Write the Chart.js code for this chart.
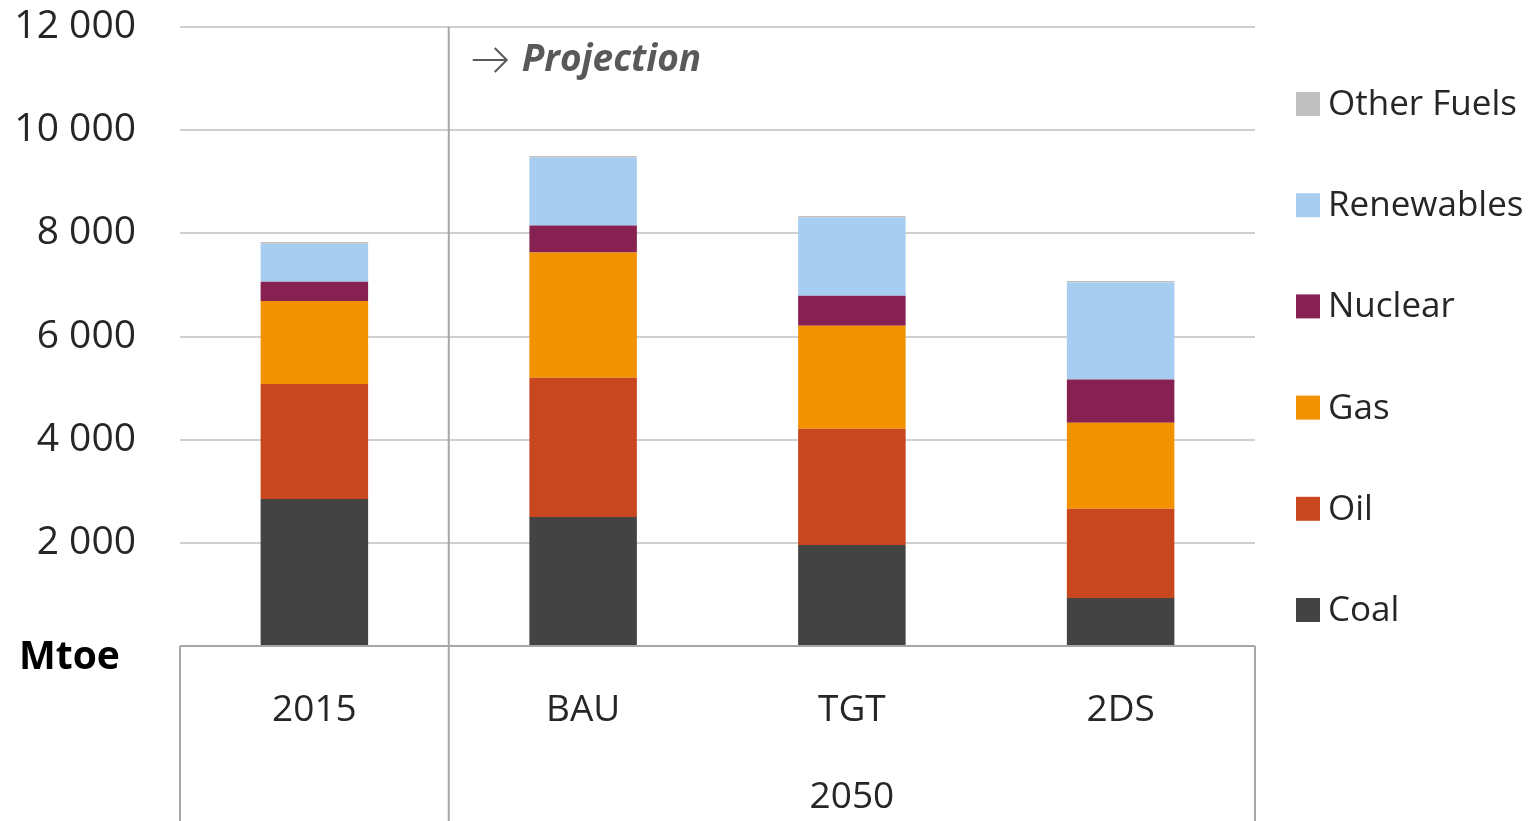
<!DOCTYPE html>
<html>
<head>
<meta charset="utf-8">
<title>Mtoe</title>
<script src="https://cdn.jsdelivr.net/npm/chart.js@4"></script>
<style>
    html, body { margin: 0; padding: 0; background: #fff; }
    #graphique { display: block; }
</style>
</head>
<body>
<canvas id="graphique" width="1530" height="821"></canvas>
<script>
const categories = ["2015", "BAU", "TGT", "2DS"];
const groupe2050 = "2050";
const charbon = [2850, 2500, 1960, 930];
const petrole = [2230, 2700, 2250, 1730];
const gaz = [1610, 2430, 2000, 1670];
const nucleaire = [370, 520, 580, 835];
const renouvelables = [740, 1320, 1515, 1880];
const autres = [30, 30, 30, 30];
const graduations = [0, 2000, 4000, 6000, 8000, 10000, 12000];

const police = "'Open Sans', 'Noto Sans', sans-serif";
const gris = "#cfcfcf";

function formatMilliers(v) {
    return String(v).replace(/\B(?=(\d{3})+(?!\d))/g, " ");
}

// cadre de l'axe x, séparateur "Projection", légende
const decor = {
    id: "decor",
    afterDraw(chart) {
        const c = chart.ctx;
        const area = chart.chartArea;
        const x = chart.scales.x;
        const bas = chart.height;
        const sep = (x.getPixelForValue(0) + x.getPixelForValue(1)) / 2;

        c.save();
        c.strokeStyle = "#a6a6a6";
        c.lineWidth = 2;
        c.beginPath();
        c.moveTo(area.left, area.bottom); c.lineTo(area.right, area.bottom);
        c.moveTo(area.left, area.bottom); c.lineTo(area.left, bas);
        c.moveTo(area.right, area.bottom); c.lineTo(area.right, bas);
        c.moveTo(sep, area.top); c.lineTo(sep, bas);
        c.stroke();

        // 2050
        c.fillStyle = "#262626";
        c.font = "37px " + police;
        c.textAlign = "center";
        c.textBaseline = "middle";
        c.fillText(groupe2050, (x.getPixelForValue(1) + x.getPixelForValue(3)) / 2, 797);

        // Mtoe
        c.font = "bold 39px " + police;
        c.fillStyle = "#000";
        c.textAlign = "left";
        c.fillText("Mtoe", 19, 658);

        // flèche + Projection
        c.strokeStyle = "#595959";
        c.lineWidth = 2;
        c.beginPath();
        c.moveTo(sep + 24, 60); c.lineTo(sep + 58, 60);
        c.moveTo(sep + 46, 48); c.lineTo(sep + 58, 60); c.lineTo(sep + 46, 72);
        c.stroke();
        c.fillStyle = "#595959";
        c.font = "italic bold 37px " + police;
        c.fillText("Projection", sep + 73, 60);

        // légende
        c.font = "35px " + police;
        const sets = chart.data.datasets.slice().reverse();
        sets.forEach((ds, i) => {
            const y = 104 + i * 101.2;
            c.fillStyle = ds.backgroundColor;
            c.fillRect(1296, y - 12, 24, 24);
            c.fillStyle = "#262626";
            c.fillText(ds.label, 1328, y + 1);
        });
        c.restore();
    }
};

const ctx = document.getElementById("graphique");
new Chart(ctx, {
    type: "bar",
    data: {
        labels: categories,
        datasets: [
            { label: "Coal", data: charbon, backgroundColor: "#434343" },
            { label: "Oil", data: petrole, backgroundColor: "#c9471f" },
            { label: "Gas", data: gaz, backgroundColor: "#f39200" },
            { label: "Nuclear", data: nucleaire, backgroundColor: "#862152" },
            { label: "Renewables", data: renouvelables, backgroundColor: "#a7cdf0" },
            { label: "Other Fuels", data: autres, backgroundColor: "#bfbfbf" }
        ]
    },
    options: {
        responsive: false,
        animation: false,
        layout: { padding: { top: 27, right: 275, left: 0, bottom: 0 } },
        datasets: { bar: { categoryPercentage: 1, barPercentage: 0.4, borderWidth: 0 } },
        plugins: { legend: { display: false }, tooltip: { enabled: false } },
        scales: {
            x: {
                stacked: true,
                grid: { display: false },
                border: { display: false },
                ticks: { color: "#262626", font: { family: police, size: 37 }, padding: 34 },
                afterFit(scale) {
                    scale.height = 175;
                    scale.paddingLeft = 0;
                    scale.paddingRight = 0;
                }
            },
            y: {
                stacked: true,
                min: 0,
                max: 12000,
                afterBuildTicks(scale) { scale.ticks = graduations.map(v => ({ value: v })); },
                grid: { color: gris, lineWidth: 2, drawTicks: false },
                border: { display: false },
                ticks: {
                    color: "#262626",
                    font: { family: police, size: 39 },
                    padding: 44,
                    callback: v => v === 0 ? "" : formatMilliers(v)
                },
                afterFit(scale) {
                    scale.width = 180;
                    scale.paddingTop = 0;
                    scale.paddingBottom = 0;
                }
            }
        }
    },
    plugins: [decor]
});
</script>
</body>
</html>
